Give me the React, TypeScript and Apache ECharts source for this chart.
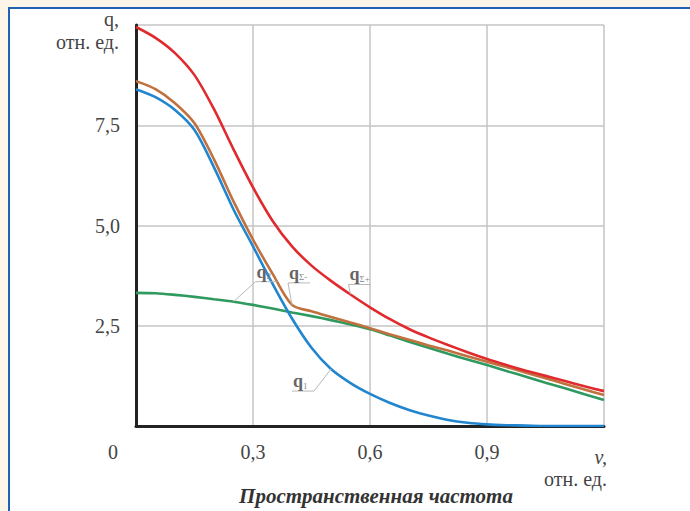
import React, { useEffect, useRef } from 'react';
import * as echarts from 'echarts';

// spatial frequency, rel. units
const nu = [0, 0.05, 0.1, 0.15, 0.2, 0.25, 0.3, 0.35, 0.4, 0.45, 0.5, 0.55, 0.6, 0.65, 0.7, 0.75, 0.8, 0.85, 0.9, 0.95, 1.0, 1.05, 1.1, 1.15, 1.2];
// q1 (blue)
const q1 = [8.4, 8.2, 7.88, 7.38, 6.45, 5.4, 4.48, 3.55, 2.68, 1.95, 1.42, 1.07, 0.8, 0.58, 0.4, 0.26, 0.15, 0.08, 0.04, 0.02, 0.01, 0, 0, 0, 0];
// q2 (green)
const q2 = [3.32, 3.31, 3.27, 3.22, 3.16, 3.1, 3.02, 2.93, 2.83, 2.74, 2.64, 2.53, 2.41, 2.26, 2.1, 1.95, 1.8, 1.66, 1.52, 1.37, 1.23, 1.08, 0.94, 0.79, 0.65];
// qΣ- (brown)
const qSumMinus = [8.6, 8.4, 8.05, 7.55, 6.65, 5.6, 4.65, 3.8, 3.02, 2.86, 2.72, 2.58, 2.44, 2.29, 2.15, 2.01, 1.88, 1.74, 1.6, 1.47, 1.33, 1.19, 1.05, 0.91, 0.77];
// qΣ+ (red)
const qSumPlus = [9.95, 9.68, 9.3, 8.75, 7.9, 6.9, 5.95, 5.12, 4.48, 4.0, 3.62, 3.28, 2.96, 2.67, 2.42, 2.21, 2.02, 1.84, 1.67, 1.52, 1.38, 1.25, 1.12, 0.99, 0.87];

const yTicks = [2.5, 5.0, 7.5];
const xTicks = [0.3, 0.6, 0.9];

const SERIF = "'Liberation Serif', 'Times New Roman', serif";

export default function App() {
  const ref = useRef<HTMLDivElement>(null);

  useEffect(() => {
    document.body.style.margin = '0';
    const chart = echarts.init(ref.current!, null, { renderer: 'svg' });

    const fmt = (v: number) => v.toFixed(1).replace('.', ',');
    const mk = (name: string, vals: number[], color: string, z: number) => ({
      type: 'line',
      name,
      data: nu.map((v, i) => [v, vals[i]]),
      smooth: 0.3,
      symbol: 'none',
      z,
      lineStyle: { color, width: 2.6 },
    });

    chart.setOption({
      animation: false,
      textStyle: { fontFamily: SERIF },
      grid: { left: 136, right: 86, top: 25, bottom: 85 },
      xAxis: {
        type: 'value',
        min: 0,
        max: 1.2,
        interval: 0.3,
        axisLine: { show: true, lineStyle: { color: '#222', width: 3 } },
        axisTick: { show: false },
        splitLine: { show: true, lineStyle: { color: '#c4c4c4', width: 1.5 } },
        axisLabel: {
          margin: 16,
          fontFamily: SERIF,
          fontSize: 20,
          color: '#444',
          formatter: (v: number) => (xTicks.some((t) => Math.abs(t - v) < 1e-6) ? fmt(v) : ''),
        },
      },
      yAxis: {
        type: 'value',
        min: 0,
        max: 10,
        interval: 2.5,
        axisLine: { show: true, lineStyle: { color: '#222', width: 3 } },
        axisTick: { show: false },
        splitLine: { show: true, lineStyle: { color: '#c4c4c4', width: 1.5 } },
        axisLabel: {
          margin: 16,
          fontFamily: SERIF,
          fontSize: 20,
          color: '#444',
          formatter: (v: number) => (yTicks.some((t) => Math.abs(t - v) < 1e-6) ? fmt(v) : ''),
        },
      },
      title: {
        text: 'Пространственная частота',
        left: 376,
        top: 485,
        padding: 0,
        textAlign: 'center',
        textStyle: { fontFamily: SERIF, fontSize: 21, lineHeight: 22, fontWeight: 'bold', fontStyle: 'italic', color: '#333' },
      },
      series: [
        mk('q2', q2, '#2f9a5f', 3),
        mk('q1', q1, '#2186cf', 4),
        mk('qΣ-', qSumMinus, '#c0713d', 5),
        mk('qΣ+', qSumPlus, '#e02a2d', 6),
      ],
    });

    // annotation leaders anchored on data points
    const ann = [
      { series: 0, idx: 5, sub: '2', dx: 22, dy: -20, dir: 1 },
      { series: 2, idx: 8, sub: 'Σ-', dx: -4, dy: -22, dir: 1 },
      { series: 3, idx: 11, sub: 'Σ+', dx: -2, dy: -10, dir: 1 },
      { series: 1, idx: 10, sub: '1', dx: -17, dy: 22, dir: -1 },
    ];
    const seriesData = [q2, q1, qSumMinus, qSumPlus];
    const graphic: any[] = [];
    ann.forEach((a, k) => {
      const p = chart.convertToPixel({ seriesIndex: a.series }, [nu[a.idx], seriesData[a.series][a.idx]]) as number[];
      const lx = p[0] + a.dx;
      const ly = p[1] + a.dy;
      const ux = lx + a.dir * 22;
      graphic.push({
        type: 'polyline',
        id: 'lead' + k,
        z: 10,
        shape: { points: [[p[0], p[1]], [lx, ly], [ux, ly]] },
        style: { stroke: '#b8b8b8', lineWidth: 1, fill: 'none' },
      });
      graphic.push({
        type: 'text',
        id: 'lab' + k,
        z: 10,
        x: Math.min(lx, ux) + 1,
        y: ly - 1,
        style: {
          text: '{q|q}{s|' + a.sub + '}',
          verticalAlign: 'bottom',
          align: 'left',
          rich: {
            q: { fontFamily: SERIF, fontSize: 18, fontWeight: 'bold', fill: '#666', color: '#666' },
            s: { fontFamily: SERIF, fontSize: 9, fill: '#888', color: '#888', verticalAlign: 'bottom' },
          },
        },
      });
    });
    // axis names and origin
    const txt = (id: string, x: number, y: number, text: string, extra: any = {}) => ({
      type: 'text',
      id,
      x,
      y,
      style: { text, fontFamily: SERIF, fontSize: 20, fill: '#444', align: 'right', verticalAlign: 'middle', ...extra },
    });
    graphic.push(txt('yname1', 119, 19, 'q,'));
    graphic.push(txt('yname2', 119, 42, 'отн. ед.'));
    graphic.push(txt('xname1', 607, 457, 'v,', { fontStyle: 'italic' }));
    graphic.push(txt('xname2', 607, 479, 'отн. ед.'));
    graphic.push(txt('origin', 113, 452, '0', { align: 'center' }));

    chart.setOption({ graphic });

    return () => chart.dispose();
  }, []);

  return (
    <div style={{ position: 'fixed', left: 0, top: 0, width: 690, height: 511, background: '#fdf5e8', overflow: 'hidden' }}>
      <div
        style={{
          position: 'absolute',
          left: 8,
          top: 7,
          width: 720,
          height: 540,
          background: '#ffffff',
          borderLeft: '2px solid #1f62b5',
          borderTop: '2px solid #1f62b5',
        }}
      />
      <div ref={ref} style={{ position: 'absolute', left: 0, top: 0, width: 690, height: 511 }} />
    </div>
  );
}
